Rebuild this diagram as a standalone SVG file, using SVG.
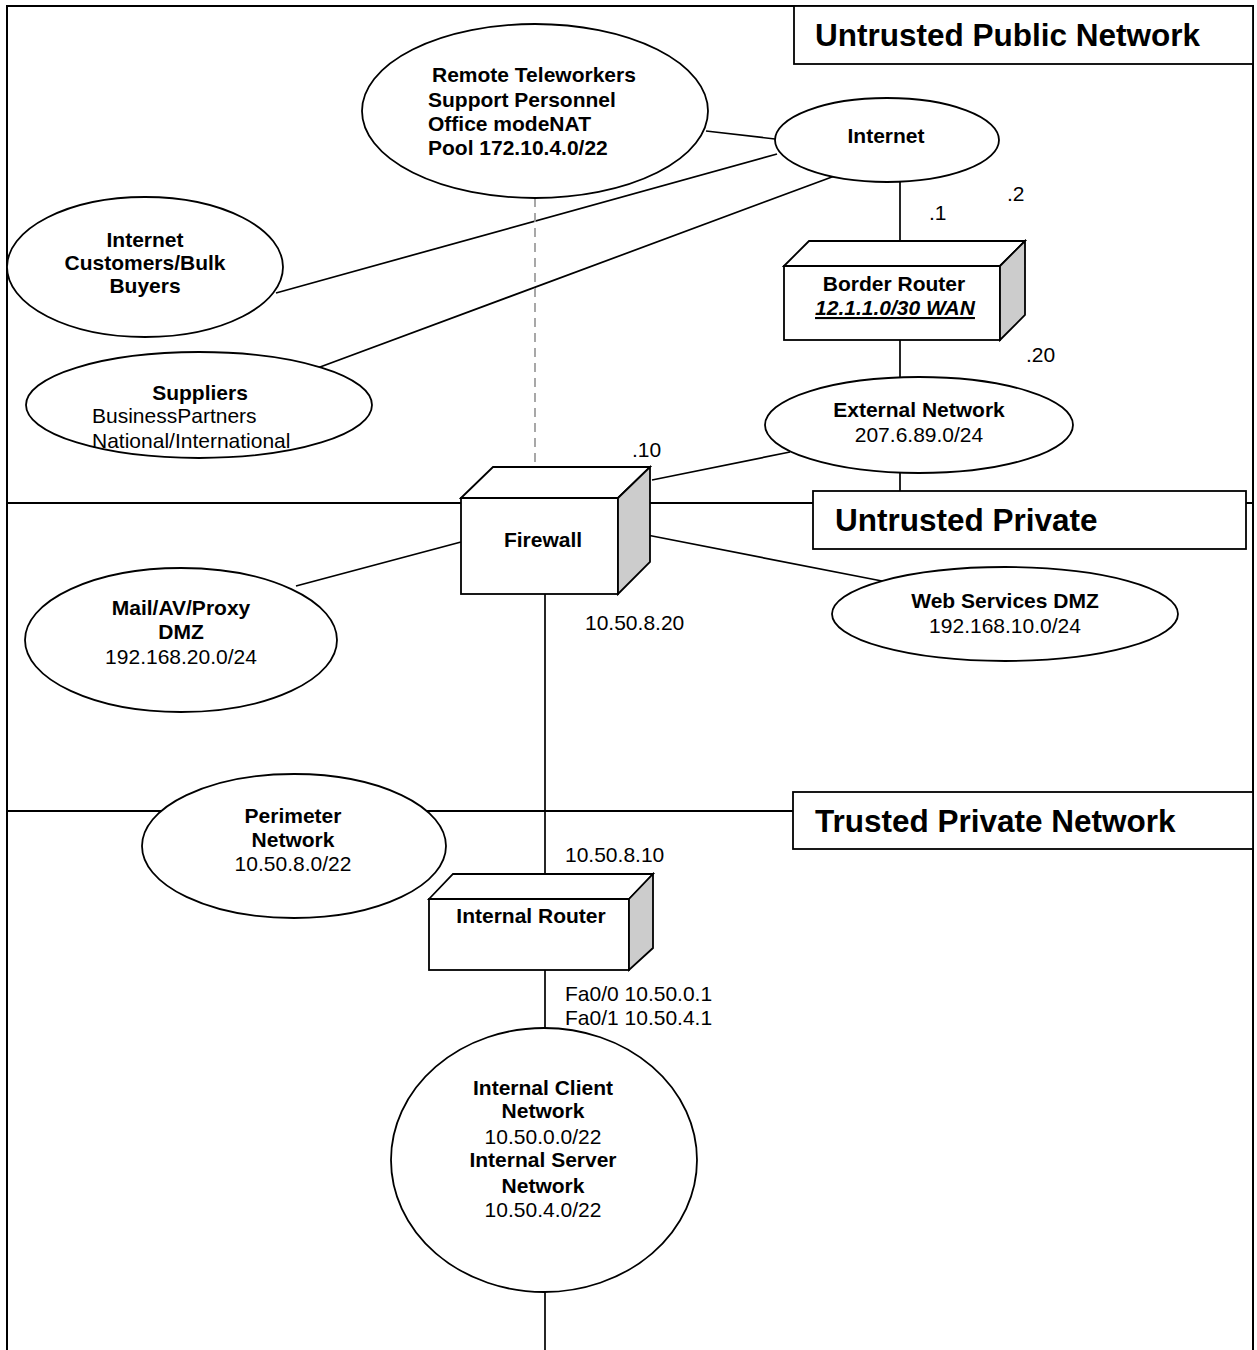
<svg xmlns="http://www.w3.org/2000/svg" width="1257" height="1350" viewBox="0 0 1257 1350">
<style>
.ln{stroke:#000;stroke-width:2;fill:none}
.cn{stroke:#000;stroke-width:1.7;fill:none}
.dash{stroke:#999;stroke-width:1.7;fill:none;stroke-dasharray:9 6}
.sh{fill:#fff;stroke:#000;stroke-width:1.8}
.side{fill:#ccc;stroke:#000;stroke-width:1.8}
text{font-family:"Liberation Sans",Arial,Helvetica,sans-serif;font-size:21px;fill:#000}
.b{font-weight:bold}
.c{text-anchor:middle}
.big{font-size:31.5px;font-weight:bold}
</style>
<rect width="1257" height="1350" fill="#fff"/>
<g id="frame">
<path class="ln" d="M7,1350 V6 H1253 V1350"/>
<line class="ln" x1="7" y1="503" x2="1253" y2="503"/>
<line class="ln" x1="7" y1="811" x2="1253" y2="811"/>
</g>
<g id="connectors">
<line class="cn" x1="706" y1="131" x2="775" y2="139"/>
<line class="cn" x1="777" y1="154" x2="276" y2="293"/>
<line class="cn" x1="840" y1="174" x2="312" y2="370"/>
<line class="dash" x1="535" y1="198" x2="535" y2="467"/>
<line class="cn" x1="900" y1="182" x2="900" y2="241"/>
<line class="cn" x1="900" y1="340" x2="900" y2="377"/>
<line class="cn" x1="900" y1="473" x2="900" y2="491"/>
<line class="cn" x1="652" y1="480" x2="790" y2="452"/>
<line class="cn" x1="647" y1="535" x2="887" y2="582"/>
<line class="cn" x1="461" y1="542" x2="296" y2="586"/>
<line class="cn" x1="545" y1="594" x2="545" y2="874"/>
<line class="cn" x1="545" y1="970" x2="545" y2="1028"/>
<line class="cn" x1="545" y1="1292" x2="545" y2="1350"/>
</g>
<g id="zone-untrusted-public">
<rect class="sh" x="794" y="6" width="459" height="58"/>
<text class="big" x="815" y="46">Untrusted Public Network</text>
</g>
<g id="zone-untrusted-private">
<rect class="sh" x="813" y="491" width="433" height="58"/>
<text class="big" x="835" y="531">Untrusted Private</text>
</g>
<g id="zone-trusted-private">
<rect class="sh" x="793" y="792" width="460" height="57"/>
<text class="big" x="815" y="832">Trusted Private Network</text>
</g>
<g id="remote">
<ellipse class="sh" cx="535" cy="111" rx="173" ry="87"/>
<text class="b" x="432" y="82">Remote Teleworkers</text>
<text class="b" x="428" y="107">Support Personnel</text>
<text class="b" x="428" y="131">Office modeNAT</text>
<text class="b" x="428" y="155">Pool 172.10.4.0/22</text>
</g>
<g id="internet">
<ellipse class="sh" cx="887" cy="140" rx="112" ry="42"/>
<text class="b c" x="886" y="143">Internet</text>
</g>
<g id="customers">
<ellipse class="sh" cx="145" cy="267" rx="138" ry="70"/>
<text class="b c" x="145" y="247">Internet</text>
<text class="b c" x="145" y="270">Customers/Bulk</text>
<text class="b c" x="145" y="293">Buyers</text>
</g>
<g id="suppliers">
<ellipse class="sh" cx="199" cy="405" rx="173" ry="53"/>
<text class="b c" x="200" y="400">Suppliers</text>
<text x="92" y="423">BusinessPartners</text>
<text x="92" y="448">National/International</text>
</g>
<g id="border-router">
<rect class="sh" x="784" y="266" width="216" height="74"/>
<polygon class="sh" points="784,266 809,241 1025,241 1000,266"/>
<polygon class="side" points="1000,266 1025,241 1025,315 1000,340"/>
<text class="b c" x="894" y="291">Border Router</text>
<text class="b c" x="895" y="315" font-style="italic" text-decoration="underline">12.1.1.0/30 WAN</text>
</g>
<g id="external">
<ellipse class="sh" cx="919" cy="425" rx="154" ry="48"/>
<text class="b c" x="919" y="417">External Network</text>
<text class="c" x="919" y="442">207.6.89.0/24</text>
</g>
<g id="firewall">
<rect class="sh" x="461" y="498" width="157" height="96"/>
<polygon class="sh" points="461,498 493,467 650,467 618,498"/>
<polygon class="side" points="618,498 650,467 650,562 618,594"/>
<text class="b c" x="543" y="547">Firewall</text>
</g>
<g id="mail-dmz">
<ellipse class="sh" cx="181" cy="640" rx="156" ry="72"/>
<text class="b c" x="181" y="615">Mail/AV/Proxy</text>
<text class="b c" x="181" y="639">DMZ</text>
<text class="c" x="181" y="664">192.168.20.0/24</text>
</g>
<g id="web-dmz">
<ellipse class="sh" cx="1005" cy="614" rx="173" ry="47"/>
<text class="b c" x="1005" y="608">Web Services DMZ</text>
<text class="c" x="1005" y="633">192.168.10.0/24</text>
</g>
<g id="perimeter">
<ellipse class="sh" cx="294" cy="846" rx="152" ry="72"/>
<text class="b c" x="293" y="823">Perimeter</text>
<text class="b c" x="293" y="847">Network</text>
<text class="c" x="293" y="871">10.50.8.0/22</text>
</g>
<g id="internal-router">
<rect class="sh" x="429" y="899" width="200" height="71"/>
<polygon class="sh" points="429,899 453,874 653,874 629,899"/>
<polygon class="side" points="629,899 653,874 653,948 629,970"/>
<text class="b c" x="531" y="923">Internal Router</text>
</g>
<g id="internal-networks">
<ellipse class="sh" cx="544" cy="1160" rx="153" ry="132"/>
<text class="b c" x="543" y="1095">Internal Client</text>
<text class="b c" x="543" y="1118">Network</text>
<text class="c" x="543" y="1144">10.50.0.0/22</text>
<text class="b c" x="543" y="1167">Internal Server</text>
<text class="b c" x="543" y="1193">Network</text>
<text class="c" x="543" y="1217">10.50.4.0/22</text>
</g>
<g id="labels">
<text x="929" y="220">.1</text>
<text x="1007" y="201">.2</text>
<text x="1026" y="362">.20</text>
<text x="632" y="457">.10</text>
<text x="585" y="630">10.50.8.20</text>
<text x="565" y="862">10.50.8.10</text>
<text x="565" y="1001">Fa0/0 10.50.0.1</text>
<text x="565" y="1025">Fa0/1 10.50.4.1</text>
</g>
</svg>
